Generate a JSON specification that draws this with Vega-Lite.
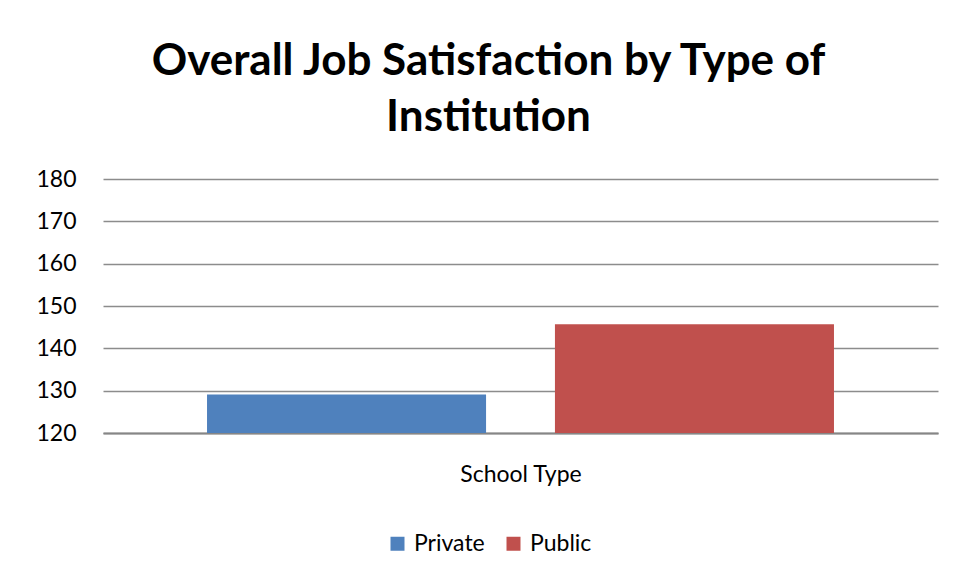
{
  "$schema": "https://vega.github.io/schema/vega-lite/v6.json",
  "autosize": "none",
  "width": 835,
  "height": 254,
  "padding": {"left": 103, "top": 179, "right": 17, "bottom": 144},
  "background": "white",
  "data": {"values": [
    {"type": "Private", "value": 129.1},
    {"type": "Public", "value": 145.7}
  ]},
  "title": {
    "text": ["Overall Job Satisfaction by Type of", "Institution"],
    "anchor": "middle",
    "frame": "group",
    "dx": -32,
    "offset": 28,
    "font": "Lato",
    "fontSize": 44,
    "fontWeight": "bold",
    "lineHeight": 56,
    "color": "#000000"
  },
  "mark": {"type": "bar"},
  "encoding": {
    "x": {
      "field": "type",
      "type": "nominal",
      "scale": {"paddingInner": 0.198, "paddingOuter": 0.299},
      "axis": {
        "title": "School Type",
        "labels": false,
        "ticks": false,
        "domain": true,
        "domainColor": "#868686",
        "domainWidth": 2,
        "titleFont": "Lato",
        "titleFontSize": 23,
        "titleFontWeight": "normal",
        "titleColor": "#000000",
        "titlePadding": 30
      }
    },
    "y": {
      "field": "value",
      "type": "quantitative",
      "scale": {"domain": [120, 180], "nice": false, "zero": false},
      "axis": {
        "title": null,
        "values": [120, 130, 140, 150, 160, 170, 180],
        "ticks": false,
        "domain": false,
        "labelFont": "Lato",
        "labelFontSize": 23,
        "labelColor": "#000000",
        "labelPadding": 27,
        "gridColor": "#8c8c8c",
        "gridWidth": 1.3
      }
    },
    "y2": {"datum": 120},
    "color": {
      "field": "type",
      "type": "nominal",
      "scale": {"domain": ["Private", "Public"], "range": ["#4F81BD", "#C0504D"]},
      "legend": {
        "title": null,
        "orient": "none",
        "direction": "horizontal",
        "legendX": 283,
        "legendY": 353,
        "symbolType": "square",
        "symbolSize": 196,
        "symbolStrokeWidth": 0,
        "labelFont": "Lato",
        "labelFontSize": 23,
        "labelColor": "#000000",
        "labelOffset": 5,
        "columnPadding": 17
      }
    }
  },
  "config": {
    "view": {"stroke": null}
  }
}
